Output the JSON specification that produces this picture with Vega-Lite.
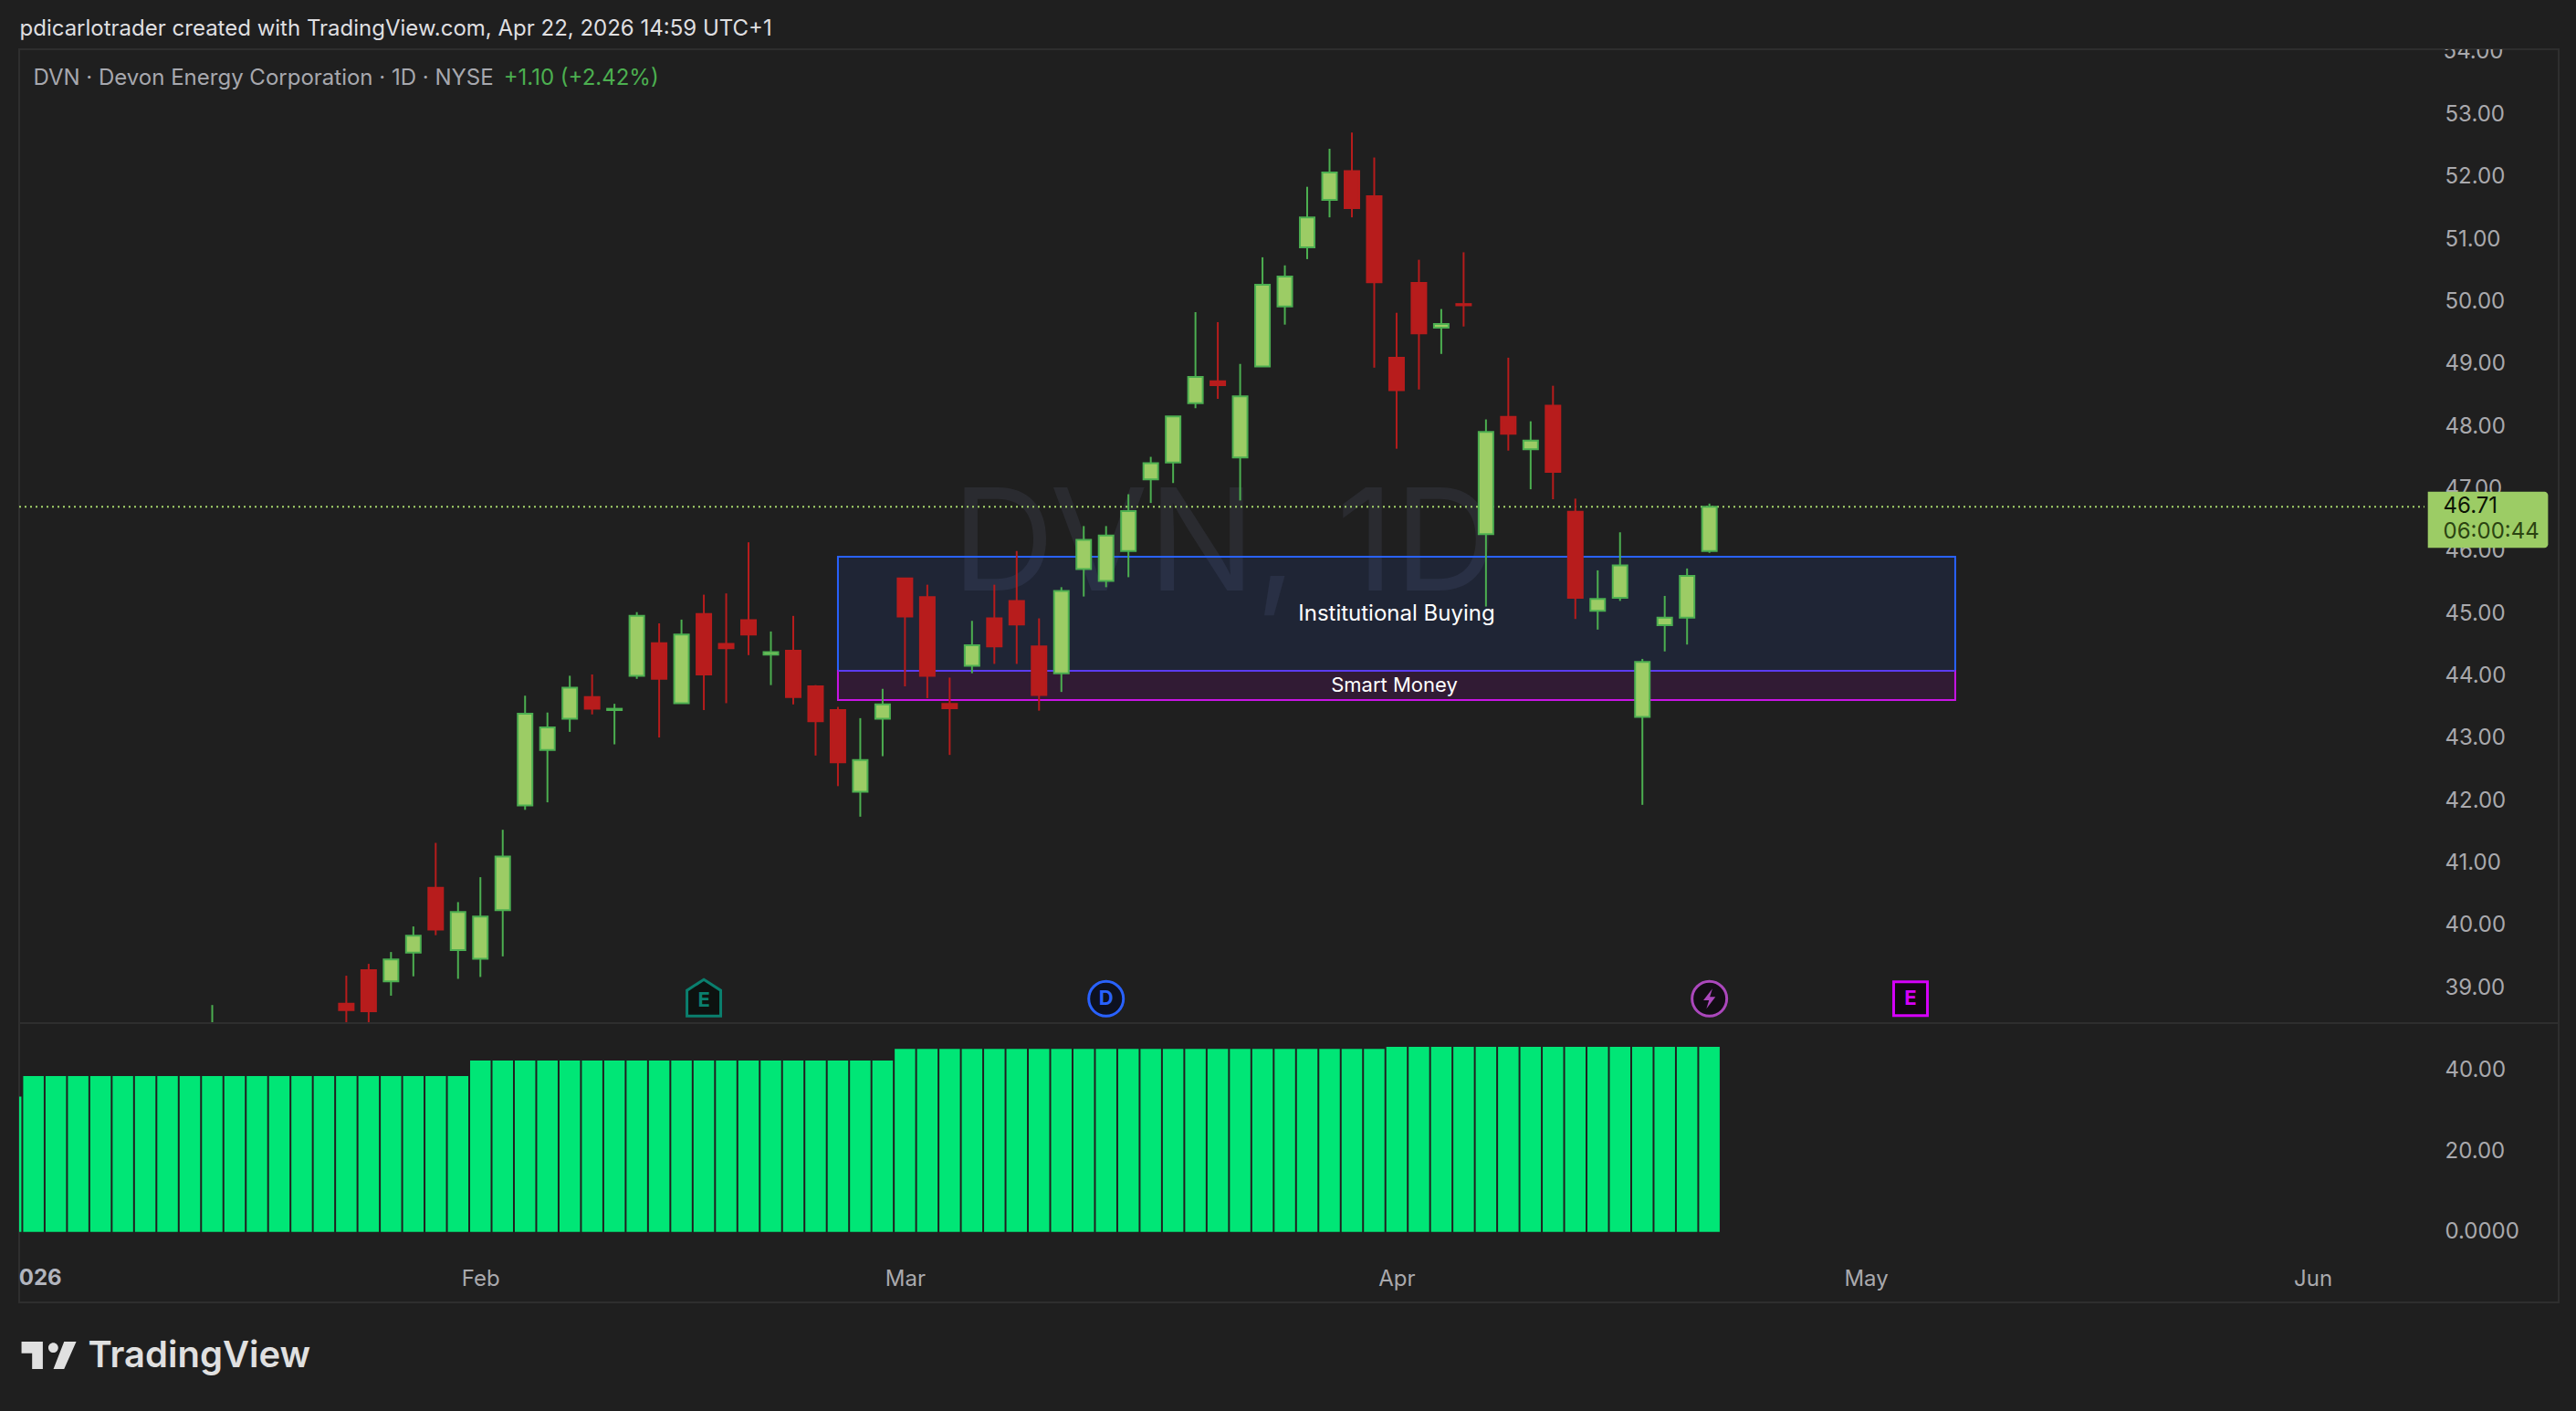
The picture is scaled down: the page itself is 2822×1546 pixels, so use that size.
{
"$schema":"https://vega.github.io/schema/vega-lite/v6.json",
"background":"#1f1f1f",
"padding":{"left":19,"top":19,"right":30,"bottom":60},
"spacing":0,
"bounds":"flush",
"config":{"view":{"stroke":"#2e2e2e","strokeWidth":2},"font":"Inter","axis":{"domain":false,"ticks":false,"grid":false,"title":null,"labelFont":"Inter","labelFontSize":24,"labelColor":"#a9a9ad","labelPadding":0,"labelFlush":false,"labelOverlap":false}},
"datasets":{
"candles":[
{"i":8,"date":"2026-01-14","open":37.9,"high":38.72,"low":37.6,"close":38.2},
{"i":14,"date":"2026-01-23","open":38.74,"high":39.19,"low":38.3,"close":38.64},
{"i":15,"date":"2026-01-26","open":39.28,"high":39.38,"low":38.3,"close":38.62},
{"i":16,"date":"2026-01-27","open":39.10,"high":39.57,"low":38.87,"close":39.45},
{"i":17,"date":"2026-01-28","open":39.56,"high":39.98,"low":39.18,"close":39.83},
{"i":18,"date":"2026-01-29","open":40.60,"high":41.32,"low":39.84,"close":39.93},
{"i":19,"date":"2026-01-30","open":39.60,"high":40.37,"low":39.14,"close":40.21},
{"i":20,"date":"2026-02-02","open":39.46,"high":40.77,"low":39.17,"close":40.14},
{"i":21,"date":"2026-02-03","open":40.24,"high":41.53,"low":39.50,"close":41.10},
{"i":22,"date":"2026-02-04","open":41.92,"high":43.68,"low":41.85,"close":43.39},
{"i":23,"date":"2026-02-05","open":42.81,"high":43.41,"low":41.97,"close":43.17},
{"i":24,"date":"2026-02-06","open":43.31,"high":44.00,"low":43.10,"close":43.81},
{"i":25,"date":"2026-02-09","open":43.66,"high":44.02,"low":43.38,"close":43.47},
{"i":26,"date":"2026-02-10","open":43.45,"high":43.55,"low":42.90,"close":43.47},
{"i":27,"date":"2026-02-11","open":44.00,"high":45.02,"low":43.95,"close":44.96},
{"i":28,"date":"2026-02-12","open":44.52,"high":44.84,"low":43.01,"close":43.95},
{"i":29,"date":"2026-02-13","open":43.56,"high":44.90,"low":43.56,"close":44.66},
{"i":30,"date":"2026-02-17","open":44.99,"high":45.30,"low":43.45,"close":44.02},
{"i":31,"date":"2026-02-18","open":44.51,"high":45.32,"low":43.56,"close":44.44},
{"i":32,"date":"2026-02-19","open":44.89,"high":46.14,"low":44.33,"close":44.66},
{"i":33,"date":"2026-02-20","open":44.34,"high":44.71,"low":43.85,"close":44.38},
{"i":34,"date":"2026-02-23","open":44.40,"high":44.96,"low":43.54,"close":43.66},
{"i":35,"date":"2026-02-24","open":43.83,"high":43.85,"low":42.72,"close":43.27},
{"i":36,"date":"2026-02-25","open":43.45,"high":43.50,"low":42.23,"close":42.61},
{"i":37,"date":"2026-02-26","open":42.14,"high":43.32,"low":41.74,"close":42.65},
{"i":38,"date":"2026-02-27","open":43.31,"high":43.79,"low":42.71,"close":43.54},
{"i":39,"date":"2026-03-02","open":45.56,"high":45.56,"low":43.83,"close":44.95},
{"i":40,"date":"2026-03-03","open":45.26,"high":45.46,"low":43.64,"close":44.00},
{"i":41,"date":"2026-03-04","open":43.55,"high":43.97,"low":42.73,"close":43.48},
{"i":42,"date":"2026-03-05","open":44.16,"high":44.88,"low":44.04,"close":44.49},
{"i":43,"date":"2026-03-06","open":44.92,"high":45.46,"low":44.19,"close":44.47},
{"i":44,"date":"2026-03-09","open":45.20,"high":46.00,"low":44.19,"close":44.82},
{"i":45,"date":"2026-03-10","open":44.47,"high":44.92,"low":43.44,"close":43.69},
{"i":46,"date":"2026-03-11","open":44.04,"high":45.42,"low":43.74,"close":45.36},
{"i":47,"date":"2026-03-12","open":45.71,"high":46.40,"low":45.27,"close":46.18},
{"i":48,"date":"2026-03-13","open":45.52,"high":46.40,"low":45.42,"close":46.25},
{"i":49,"date":"2026-03-16","open":46.00,"high":46.91,"low":45.58,"close":46.64},
{"i":50,"date":"2026-03-17","open":47.15,"high":47.51,"low":46.77,"close":47.41},
{"i":51,"date":"2026-03-18","open":47.42,"high":48.16,"low":47.09,"close":48.16},
{"i":52,"date":"2026-03-19","open":48.37,"high":49.83,"low":48.29,"close":48.79},
{"i":53,"date":"2026-03-20","open":48.72,"high":49.67,"low":48.44,"close":48.66},
{"i":54,"date":"2026-03-23","open":47.50,"high":49.00,"low":46.81,"close":48.48},
{"i":55,"date":"2026-03-24","open":48.96,"high":50.71,"low":48.96,"close":50.27},
{"i":56,"date":"2026-03-25","open":49.92,"high":50.58,"low":49.63,"close":50.40},
{"i":57,"date":"2026-03-26","open":50.87,"high":51.84,"low":50.68,"close":51.35},
{"i":58,"date":"2026-03-27","open":51.63,"high":52.45,"low":51.35,"close":52.07},
{"i":59,"date":"2026-03-30","open":52.09,"high":52.71,"low":51.35,"close":51.50},
{"i":60,"date":"2026-03-31","open":51.69,"high":52.31,"low":48.94,"close":50.31},
{"i":61,"date":"2026-04-01","open":49.10,"high":49.82,"low":47.64,"close":48.58},
{"i":62,"date":"2026-04-02","open":50.30,"high":50.67,"low":48.59,"close":49.49},
{"i":63,"date":"2026-04-06","open":49.58,"high":49.88,"low":49.16,"close":49.64},
{"i":64,"date":"2026-04-07","open":49.96,"high":50.79,"low":49.60,"close":49.94},
{"i":65,"date":"2026-04-08","open":46.27,"high":48.11,"low":45.11,"close":47.91},
{"i":66,"date":"2026-04-09","open":48.15,"high":49.10,"low":47.61,"close":47.88},
{"i":67,"date":"2026-04-10","open":47.63,"high":48.08,"low":46.99,"close":47.77},
{"i":68,"date":"2026-04-13","open":48.33,"high":48.65,"low":46.83,"close":47.27},
{"i":69,"date":"2026-04-14","open":46.63,"high":46.84,"low":44.91,"close":45.25},
{"i":70,"date":"2026-04-15","open":45.04,"high":45.69,"low":44.74,"close":45.23},
{"i":71,"date":"2026-04-16","open":45.25,"high":46.30,"low":45.20,"close":45.77},
{"i":72,"date":"2026-04-17","open":43.34,"high":44.27,"low":41.93,"close":44.22},
{"i":73,"date":"2026-04-20","open":44.81,"high":45.28,"low":44.39,"close":44.93},
{"i":74,"date":"2026-04-21","open":44.93,"high":45.72,"low":44.50,"close":45.60},
{"i":75,"date":"2026-04-22","open":46.00,"high":46.76,"low":45.97,"close":46.71}
],
"osc":[
{"i":-1,"v":33.5},{"i":0,"v":38.6},{"i":1,"v":38.6},{"i":2,"v":38.6},{"i":3,"v":38.6},{"i":4,"v":38.6},{"i":5,"v":38.6},{"i":6,"v":38.6},{"i":7,"v":38.6},{"i":8,"v":38.6},{"i":9,"v":38.6},{"i":10,"v":38.6},{"i":11,"v":38.6},{"i":12,"v":38.6},{"i":13,"v":38.6},{"i":14,"v":38.6},{"i":15,"v":38.6},{"i":16,"v":38.6},{"i":17,"v":38.6},{"i":18,"v":38.6},{"i":19,"v":38.6},
{"i":20,"v":42.4},{"i":21,"v":42.4},{"i":22,"v":42.4},{"i":23,"v":42.4},{"i":24,"v":42.4},{"i":25,"v":42.4},{"i":26,"v":42.4},{"i":27,"v":42.4},{"i":28,"v":42.4},{"i":29,"v":42.4},{"i":30,"v":42.4},{"i":31,"v":42.4},{"i":32,"v":42.4},{"i":33,"v":42.4},{"i":34,"v":42.4},{"i":35,"v":42.4},{"i":36,"v":42.4},{"i":37,"v":42.4},{"i":38,"v":42.4},
{"i":39,"v":45.3},{"i":40,"v":45.3},{"i":41,"v":45.3},{"i":42,"v":45.3},{"i":43,"v":45.3},{"i":44,"v":45.3},{"i":45,"v":45.3},{"i":46,"v":45.3},{"i":47,"v":45.3},{"i":48,"v":45.3},{"i":49,"v":45.3},{"i":50,"v":45.3},{"i":51,"v":45.3},{"i":52,"v":45.3},{"i":53,"v":45.3},{"i":54,"v":45.3},{"i":55,"v":45.3},{"i":56,"v":45.3},{"i":57,"v":45.3},{"i":58,"v":45.3},{"i":59,"v":45.3},{"i":60,"v":45.3},
{"i":61,"v":45.8},{"i":62,"v":45.8},{"i":63,"v":45.8},{"i":64,"v":45.8},{"i":65,"v":45.8},{"i":66,"v":45.8},{"i":67,"v":45.8},{"i":68,"v":45.8},{"i":69,"v":45.8},{"i":70,"v":45.8},{"i":71,"v":45.8},{"i":72,"v":45.8},{"i":73,"v":45.8},{"i":74,"v":45.8},{"i":75,"v":45.8}
]
},
"vconcat":[
{
"width":2782,"height":1067,
"encoding":{"x":{"field":"i","type":"quantitative","scale":{"domain":[-0.64,113.004],"nice":false,"zero":false,"padding":0},"axis":null}},
"layer":[
{"data":{"values":[{"i":53.3,"price":46.06,"t":"DVN, 1D"}]},"mark":{"type":"text","align":"center","baseline":"middle","font":"Inter","fontSize":156,"color":"#2a2b30"},"encoding":{"y":{"field":"price","type":"quantitative","scale":{"domain":[38.43,54.045],"nice":false,"zero":false},"axis":{"orient":"right","offset":-125,"values":[39,40,41,42,43,44,45,46,47,48,49,50,51,52,53],"format":".2f","labelAlign":"left"}},"text":{"field":"t"}}},
{"data":{"values":[{"i":36,"i2":86,"top":45.91,"bot":44.08}]},"mark":{"type":"rect","fill":"#2962ff","fillOpacity":0.1,"stroke":"#2962ff","strokeWidth":2},"encoding":{"x":{"field":"i","type":"quantitative"},"x2":{"field":"i2"},"y":{"field":"top","type":"quantitative"},"y2":{"field":"bot"}}},
{"data":{"values":[{"i":36,"i2":86,"top":44.08,"bot":43.61}]},"mark":{"type":"rect","fill":"#d500f9","fillOpacity":0.1,"stroke":"#c914e6","strokeWidth":2},"encoding":{"x":{"field":"i","type":"quantitative"},"x2":{"field":"i2"},"y":{"field":"top","type":"quantitative"},"y2":{"field":"bot"}}},
{"data":{"values":[{"i":36,"i2":86,"p":44.08}]},"mark":{"type":"rule","color":"#5b3cf0","strokeWidth":2},"encoding":{"x":{"field":"i","type":"quantitative"},"x2":{"field":"i2"},"y":{"field":"p","type":"quantitative"}}},
{"data":{"values":[{"i":-0.64,"i2":107,"p":46.71}]},"mark":{"type":"rule","color":"#a5d46a","strokeWidth":2,"strokeDash":[2,4]},"encoding":{"x":{"field":"i","type":"quantitative"},"x2":{"field":"i2"},"y":{"field":"p","type":"quantitative"}}},
{"data":{"name":"candles"},"transform":[{"calculate":"datum.close>=datum.open?'up':'down'","as":"dir"}],"mark":{"type":"rule","strokeWidth":2,"clip":true},"encoding":{"y":{"field":"low","type":"quantitative"},"y2":{"field":"high"},"color":{"field":"dir","type":"nominal","scale":{"domain":["up","down"],"range":["#4caf50","#b71c1c"]},"legend":null}}},
{"data":{"name":"candles"},"transform":[{"calculate":"datum.close>=datum.open?'up':'down'","as":"dir"}],"mark":{"type":"bar","size":16,"strokeWidth":2,"clip":true},"encoding":{"y":{"field":"open","type":"quantitative"},"y2":{"field":"close"},"fill":{"field":"dir","type":"nominal","scale":{"domain":["up","down"],"range":["#9ccc65","#b71c1c"]},"legend":null},"stroke":{"field":"dir","type":"nominal","scale":{"domain":["up","down"],"range":["#4caf50","#b71c1c"]},"legend":null}}},
{"data":{"values":[{"i":61,"p":44.99,"t":"Institutional Buying"}]},"mark":{"type":"text","font":"Inter","fontSize":24,"color":"#ffffff","align":"center","baseline":"middle"},"encoding":{"y":{"field":"p","type":"quantitative"},"text":{"field":"t"}}},
{"data":{"values":[{"i":60.9,"p":43.85,"t":"Smart Money"}]},"mark":{"type":"text","font":"Inter","fontSize":22,"color":"#ffffff","align":"center","baseline":"middle"},"encoding":{"y":{"field":"p","type":"quantitative"},"text":{"field":"t"}}},
{"data":{"values":[{"i":107.84,"p":54,"t":"54.00"}]},"mark":{"type":"text","font":"Inter","fontSize":24,"color":"#a9a9ad","align":"left","baseline":"middle","clip":true},"encoding":{"y":{"field":"p","type":"quantitative"},"text":{"field":"t"}}},
{"data":{"values":[{"i":107.15,"i2":112.53,"top":46.95,"bot":46.05}]},"mark":{"type":"rect","fill":"#9ccc65","cornerRadiusTopRight":4,"cornerRadiusBottomRight":4},"encoding":{"x":{"field":"i","type":"quantitative"},"x2":{"field":"i2"},"y":{"field":"top","type":"quantitative"},"y2":{"field":"bot"}}},
{"data":{"values":[{"i":107.84,"p":46.71,"t":"46.71"}]},"mark":{"type":"text","font":"Inter","fontSize":24,"color":"#0c1405","align":"left","baseline":"middle"},"encoding":{"y":{"field":"p","type":"quantitative"},"text":{"field":"t"}}},
{"data":{"values":[{"i":107.84,"p":46.30,"t":"06:00:44"}]},"mark":{"type":"text","font":"Inter","fontSize":24,"color":"#2b4411","align":"left","baseline":"middle"},"encoding":{"y":{"field":"p","type":"quantitative"},"text":{"field":"t"}}},
{"data":{"values":[{"i":30,"p":38.82}]},"mark":{"type":"point","filled":true,"shape":"M0 -0.5L0.44 -0.22L0.44 0.45L-0.44 0.45L-0.44 -0.22Z","size":7056,"fill":"#0d1210","stroke":"#0a7f6e","strokeWidth":3,"opacity":1},"encoding":{"y":{"field":"p","type":"quantitative"}}},
{"data":{"values":[{"i":30,"p":38.79,"t":"E"}]},"mark":{"type":"text","font":"Inter","fontSize":22,"fontWeight":"bold","color":"#0a7f6e","align":"center","baseline":"middle"},"encoding":{"y":{"field":"p","type":"quantitative"},"text":{"field":"t"}}},
{"data":{"values":[{"i":48,"p":38.82}]},"mark":{"type":"point","filled":true,"shape":"circle","size":1444,"fill":"#0d1120","stroke":"#2962ff","strokeWidth":3,"opacity":1},"encoding":{"y":{"field":"p","type":"quantitative"}}},
{"data":{"values":[{"i":48,"p":38.82,"t":"D"}]},"mark":{"type":"text","font":"Inter","fontSize":22,"fontWeight":"bold","color":"#2962ff","align":"center","baseline":"middle"},"encoding":{"y":{"field":"p","type":"quantitative"},"text":{"field":"t"}}},
{"data":{"values":[{"i":75,"p":38.82}]},"mark":{"type":"point","filled":true,"shape":"circle","size":1444,"fill":"#120d14","stroke":"#ab47bc","strokeWidth":3,"opacity":1},"encoding":{"y":{"field":"p","type":"quantitative"}}},
{"data":{"values":[{"i":75,"p":38.82}]},"mark":{"type":"point","filled":true,"shape":"M0.15 -0.5L-0.3 0.08L-0.02 0.08L-0.15 0.5L0.3 -0.1L0.02 -0.1Z","size":1936,"fill":"#ab47bc","stroke":null,"opacity":1},"encoding":{"y":{"field":"p","type":"quantitative"}}},
{"data":{"values":[{"i":84,"p":38.82}]},"mark":{"type":"point","filled":true,"shape":"square","size":1369,"fill":"#120812","stroke":"#d500f9","strokeWidth":3,"opacity":1},"encoding":{"y":{"field":"p","type":"quantitative"}}},
{"data":{"values":[{"i":84,"p":38.82,"t":"E"}]},"mark":{"type":"text","font":"Inter","fontSize":22,"fontWeight":"bold","color":"#d500f9","align":"center","baseline":"middle"},"encoding":{"y":{"field":"p","type":"quantitative"},"text":{"field":"t"}}},
{"data":{"values":[{"i":-0.01,"p":53.58,"t":"DVN · Devon Energy Corporation · 1D · NYSE"}]},"mark":{"type":"text","font":"Inter","fontSize":24,"color":"#a7a8ae","align":"left","baseline":"middle"},"encoding":{"y":{"field":"p","type":"quantitative"},"text":{"field":"t"}}},
{"data":{"values":[{"i":21.04,"p":53.58,"t":"+1.10 (+2.42%)"}]},"mark":{"type":"text","font":"Inter","fontSize":24,"color":"#4caf50","align":"left","baseline":"middle"},"encoding":{"y":{"field":"p","type":"quantitative"},"text":{"field":"t"}}},
{"data":{"values":[{"i":-0.62,"p":54.36,"t":"pdicarlotrader created with TradingView.com, Apr 22, 2026 14:59 UTC+1"}]},"mark":{"type":"text","font":"Inter","fontSize":24,"color":"#dfdfe1","align":"left","baseline":"middle"},"encoding":{"y":{"field":"p","type":"quantitative"},"text":{"field":"t"}}}
]
},
{
"width":2782,"height":306,
"encoding":{"x":{"field":"i","type":"quantitative","scale":{"domain":[-0.64,113.004],"nice":false,"zero":false,"padding":0},"axis":{"orient":"bottom","offset":-26,"values":[20,39,61,82,102],"labelExpr":"datum.value==20?'Feb':datum.value==39?'Mar':datum.value==61?'Apr':datum.value==82?'May':'Jun'","labelBaseline":"middle","labelAlign":"center"}}},
"layer":[
{"data":{"name":"osc"},"mark":{"type":"bar","size":22.5,"color":"#00e676","clip":true},"encoding":{"y":{"field":"v","type":"quantitative","scale":{"domain":[-17.47,51.68],"nice":false,"zero":false},"axis":{"orient":"right","offset":-125,"values":[0,20,40],"labelExpr":"datum.value==0?'0.0000':format(datum.value,'.2f')","labelAlign":"left"}}}},
{"data":{"values":[{"i":0,"v":-11.6,"t":"2026"}]},"mark":{"type":"text","font":"Inter","fontSize":24,"fontWeight":"bold","color":"#b2b5be","align":"center","baseline":"middle","clip":true},"encoding":{"y":{"field":"v","type":"quantitative"},"text":{"field":"t"}}},
{"data":{"values":[{"i":0.69,"v":-30.6}]},"mark":{"type":"point","filled":true,"shape":"M-0.5 -0.25L-0.111 -0.25L-0.111 0.25L-0.306 0.25L-0.306 -0.04L-0.5 -0.04ZM0.083 0.25L0.278 -0.25L0.5 -0.25L0.278 0.25ZM-0.01 -0.14A0.09 0.09 0 1 1 0.17 -0.14A0.09 0.09 0 1 1 -0.01 -0.14Z","size":14400,"fill":"#e0e0e0","stroke":null,"opacity":1},"encoding":{"y":{"field":"v","type":"quantitative"}}},
{"data":{"values":[{"i":2.44,"v":-30.8,"t":"TradingView"}]},"mark":{"type":"text","font":"Inter","fontSize":40,"fontWeight":600,"color":"#e0e0e0","align":"left","baseline":"middle"},"encoding":{"y":{"field":"v","type":"quantitative"},"text":{"field":"t"}}}
]
}
]
}
